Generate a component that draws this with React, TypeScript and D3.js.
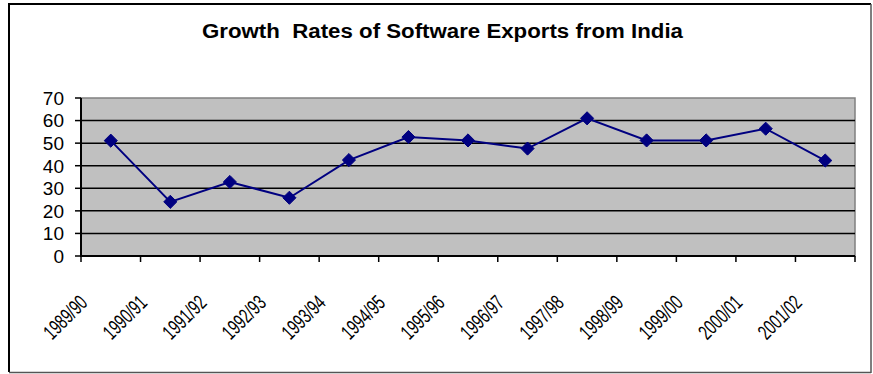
import React from "react";
import * as d3 from "d3";

const categories = [
  "1989/90", "1990/91", "1991/92", "1992/93", "1993/94", "1994/95", "1995/96",
  "1996/97", "1997/98", "1998/99", "1999/00", "2000/01", "2001/02",
];
const growthRates = [51.1, 24, 32.8, 25.8, 42.5, 52.7, 51.2, 47.6, 61, 51.2, 51.2, 56.4, 42.3];
const yTicks = [0, 10, 20, 30, 40, 50, 60, 70];
const title = "Growth\u00a0 Rates of Software Exports from India";

const W = 873;
const H = 374;
const plot = { left: 81, right: 855, top: 98, bottom: 256 };
const FONT = "Arial, 'Liberation Sans', Helvetica, sans-serif";

export default function App() {
  const x = d3.scaleBand<string>().domain(categories).range([plot.left, plot.right]).padding(0);
  const y = d3.scaleLinear().domain([0, 70]).range([plot.bottom, plot.top]);
  const cx = (c: string) => (x(c) ?? 0) + x.bandwidth() / 2;

  const line = d3
    .line<number>()
    .x((_, i) => cx(categories[i]))
    .y((d) => y(d));

  const diamond = d3.symbol().type(d3.symbolDiamond2).size(110)();

  const xTickPositions = categories.map((c) => x(c) ?? 0).concat([plot.right]);

  return (
    <svg
      width={W}
      height={H}
      style={{ position: "absolute", left: 0, top: 0, display: "block" }}
      fontFamily={FONT}
    >
      <rect x={0} y={0} width={W} height={H} fill="#fff" />
      {/* chart border */}
      <line x1={9} y1={4} x2={9} y2={372} stroke="#000" strokeWidth={2} />
      <line x1={8} y1={4} x2={871} y2={4} stroke="#000" strokeWidth={2} />
      <line x1={871} y1={4} x2={871} y2={373} stroke="#555" strokeWidth={1.5} />
      <line x1={9} y1={372.5} x2={871} y2={372.5} stroke="#555" strokeWidth={1.5} />

      <text
        x={202}
        y={38}
        fontWeight="bold"
        fontSize={20}
        textLength={481}
        lengthAdjust="spacingAndGlyphs"
        fill="#000"
      >
        {title}
      </text>

      {/* plot area */}
      <rect
        x={plot.left}
        y={plot.top}
        width={plot.right - plot.left}
        height={plot.bottom - plot.top}
        fill="#c0c0c0"
        stroke="#808080"
        strokeWidth={1.5}
      />
      {yTicks.filter((t) => t > 0 && t < 70).map((t) => (
        <line
          key={t}
          x1={plot.left}
          x2={plot.right}
          y1={y(t)}
          y2={y(t)}
          stroke="#000"
          strokeWidth={1.5}
        />
      ))}

      {/* y axis */}
      <line x1={plot.left} x2={plot.left} y1={plot.top} y2={plot.bottom + 1} stroke="#000" strokeWidth={2} />
      {yTicks.map((t) => (
        <g key={t}>
          <line x1={plot.left - 6} x2={plot.left} y1={y(t)} y2={y(t)} stroke="#000" strokeWidth={1.5} />
          <text
            x={64}
            y={y(t)}
            dy="0.36em"
            textAnchor="end"
            fontSize={19}
            fill="#000"
          >
            {t}
          </text>
        </g>
      ))}

      {/* x axis */}
      <line x1={plot.left} x2={plot.right} y1={plot.bottom} y2={plot.bottom} stroke="#000" strokeWidth={2} />
      {xTickPositions.map((px, i) => (
        <line key={i} x1={px} x2={px} y1={plot.bottom} y2={plot.bottom + 6} stroke="#000" strokeWidth={1.5} />
      ))}
      {categories.map((c) => {
        const ex = cx(c) - 22;
        const ey = 304;
        return (
          <text
            key={c}
            x={ex}
            y={ey}
            textAnchor="end"
            fontSize={21}
            textLength={52}
            lengthAdjust="spacingAndGlyphs"
            transform={`rotate(-45 ${ex} ${ey})`}
            fill="#000"
          >
            {c}
          </text>
        );
      })}

      {/* series */}
      <path d={line(growthRates) ?? ""} fill="none" stroke="#000080" strokeWidth={2} />
      {growthRates.map((v, i) => (
        <path
          key={i}
          d={diamond ?? ""}
          transform={`translate(${cx(categories[i])},${y(v)})`}
          fill="#000080"
          stroke="#000080"
          strokeWidth={1}
        />
      ))}
    </svg>
  );
}
